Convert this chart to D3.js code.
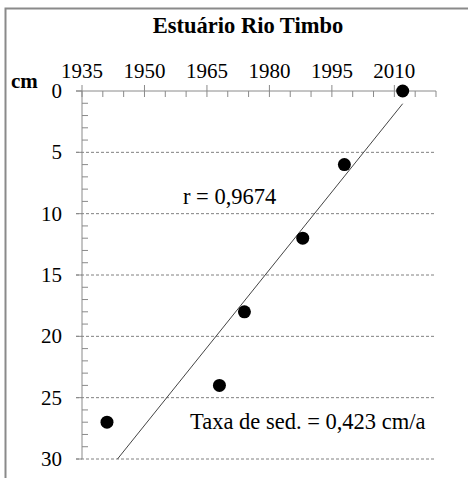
<!DOCTYPE html>
<html>
<head>
<meta charset="utf-8">
<script src="https://cdn.jsdelivr.net/npm/d3@7"></script>
<style>
  html, body { margin: 0; padding: 0; background: #fff; }
  svg { display: block; }
  text { font-family: "Liberation Serif", "Times New Roman", serif; fill: #000; }
</style>
</head>
<body>
<svg id="chart" width="469" height="478"></svg>
<script>
// Core samples: dating year vs. depth below surface
const years  = [1941, 1968, 1974, 1988, 1998, 2012];
const depths = [27, 24, 18, 12, 6, 0];

// Axis tick values
const yearMajorTicks = [1935, 1950, 1965, 1980, 1995, 2010];
const yearMinorTicks = [1940, 1945, 1955, 1960, 1970, 1975, 1985, 1990, 2000, 2005, 2015, 2020];
const depthMajorTicks = [0, 5, 10, 15, 20, 25, 30];
const depthMinorTicks = d3.range(1, 30).filter(d => d % 5 !== 0);

// Annotations
const titleText = "Estuário Rio Timbo";
const unitLabel = "cm";
const correlation = "0,9674";
const sedRate = 0.423;   // cm per year

const svg = d3.select("#chart");
const axisColor = "#8a8a8a";

const x = d3.scaleLinear().domain([1935, 2020]).range([82, 436]);
const y = d3.scaleLinear().domain([0, 30]).range([91, 459]);

// Outer frame (top and left edges)
svg.append("path")
  .attr("d", "M5.5,478 L5.5,8.5 L468,8.5")
  .attr("fill", "none")
  .attr("stroke", axisColor)
  .attr("stroke-width", 2);

// Title
svg.append("text")
  .attr("x", 248).attr("y", 33)
  .attr("text-anchor", "middle")
  .attr("font-weight", "bold")
  .attr("font-size", 22.5)
  .text(titleText);

// Dashed horizontal gridlines
svg.append("g")
  .selectAll("line")
  .data(depthMajorTicks.filter(d => d > 0))
  .join("line")
  .attr("x1", 76).attr("x2", x.range()[1])
  .attr("y1", d => y(d)).attr("y2", d => y(d))
  .attr("stroke", "#808080")
  .attr("stroke-width", 1)
  .attr("stroke-dasharray", "3,2");

// Year axis along the top (depth 0)
const xAxisG = svg.append("g").attr("transform", `translate(0,${y(0)})`);
xAxisG.append("line")
  .attr("x1", 76).attr("x2", x.range()[1])
  .attr("stroke", axisColor);
xAxisG.selectAll(".major")
  .data(yearMajorTicks)
  .join("line")
  .attr("x1", d => x(d)).attr("x2", d => x(d))
  .attr("y1", -6).attr("y2", 6)
  .attr("stroke", axisColor);
xAxisG.selectAll(".minor")
  .data(yearMinorTicks)
  .join("line")
  .attr("x1", d => x(d)).attr("x2", d => x(d))
  .attr("y1", 0).attr("y2", 6)
  .attr("stroke", axisColor);
svg.append("g")
  .selectAll("text")
  .data(yearMajorTicks)
  .join("text")
  .attr("x", d => x(d))
  .attr("y", 78)
  .attr("text-anchor", "middle")
  .attr("font-size", 21)
  .text(d => d);

// Depth axis on the left
const yAxisG = svg.append("g").attr("transform", `translate(${x(1935)},0)`);
yAxisG.append("line")
  .attr("y1", y(0)).attr("y2", y(30))
  .attr("stroke", axisColor);
yAxisG.selectAll(".major")
  .data(depthMajorTicks)
  .join("line")
  .attr("y1", d => y(d)).attr("y2", d => y(d))
  .attr("x1", -6).attr("x2", 0)
  .attr("stroke", axisColor);
yAxisG.selectAll(".minor")
  .data(depthMinorTicks)
  .join("line")
  .attr("y1", d => y(d)).attr("y2", d => y(d))
  .attr("x1", 0).attr("x2", 6)
  .attr("stroke", axisColor);
svg.append("g")
  .selectAll("text")
  .data(depthMajorTicks)
  .join("text")
  .attr("x", 62)
  .attr("y", d => y(d))
  .attr("dy", "0.33em")
  .attr("text-anchor", "end")
  .attr("font-size", 21)
  .text(d => d);

// Unit label
svg.append("text")
  .attr("x", 11).attr("y", 88)
  .attr("font-weight", "bold")
  .attr("font-size", 21)
  .text(unitLabel);

// Linear trend with the stated sedimentation rate, anchored at the data centroid
const mx = d3.mean(years), my = d3.mean(depths);
const depthAt = yr => my - sedRate * (yr - mx);
const yearAt = dp => mx - (dp - my) / sedRate;
let x0 = d3.min(years), x1 = d3.max(years);
if (depthAt(x0) > 30) x0 = yearAt(30);
if (depthAt(x1) < 0) x1 = yearAt(0);
svg.append("line")
  .attr("x1", x(x0)).attr("y1", y(depthAt(x0)))
  .attr("x2", x(x1)).attr("y2", y(depthAt(x1)))
  .attr("stroke", "#444")
  .attr("stroke-width", 1);

// Sample points
svg.append("g")
  .selectAll("circle")
  .data(years.map((yr, i) => [yr, depths[i]]))
  .join("circle")
  .attr("cx", d => x(d[0]))
  .attr("cy", d => y(d[1]))
  .attr("r", 6.5)
  .attr("fill", "#000");

// Annotations
svg.append("text")
  .attr("x", 183).attr("y", 204)
  .attr("font-size", 22.5)
  .text(`r = ${correlation}`);
svg.append("text")
  .attr("x", 190).attr("y", 429)
  .attr("font-size", 22.5)
  .text(`Taxa de sed. = ${d3.format(".3f")(sedRate).replace(".", ",")} cm/a`);
</script>
</body>
</html>
